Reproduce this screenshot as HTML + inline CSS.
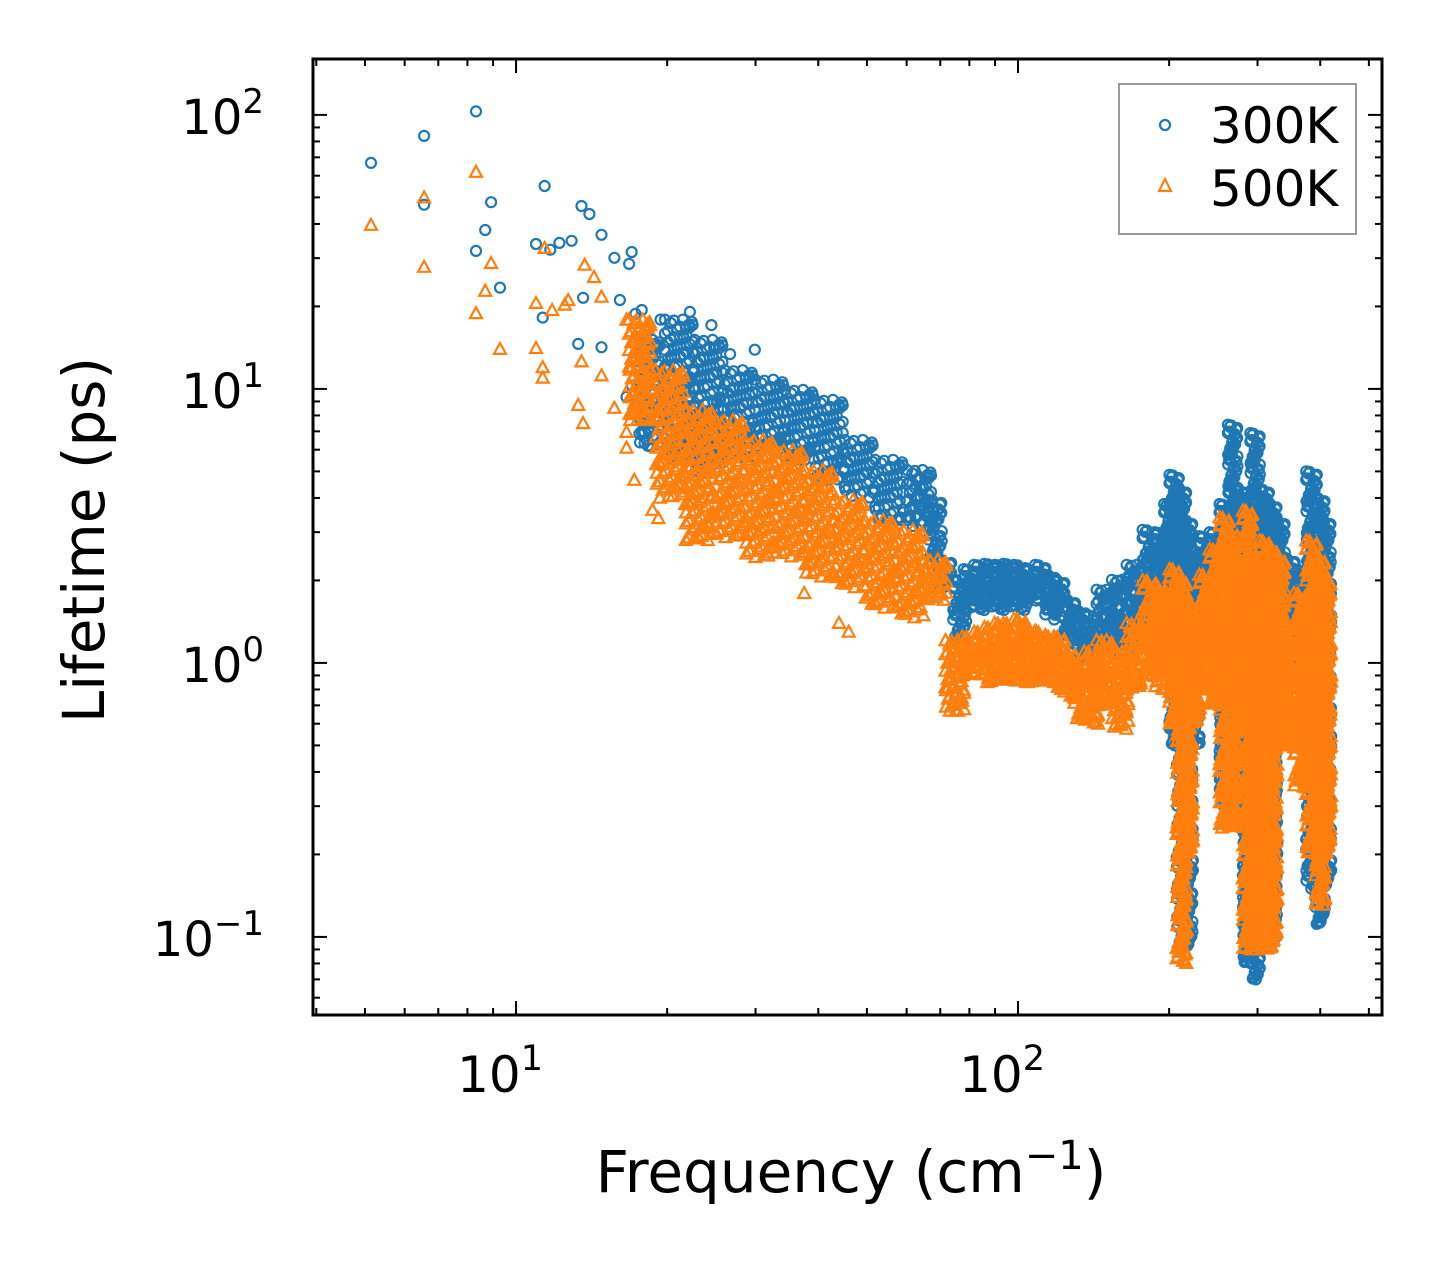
<!DOCTYPE html>
<html><head><meta charset="utf-8"><style>
html,body{margin:0;padding:0;background:#fff;}
svg{display:block;font-family:"DejaVu Sans","Liberation Sans",sans-serif;}
</style></head><body>
<svg id="chart" width="1442" height="1265" viewBox="0 0 1442 1265" xmlns="http://www.w3.org/2000/svg">
<rect x="0" y="0" width="1442" height="1265" fill="#fff"/>
<g id="marks"></g>
<g id="axes"></g>
<g>
<rect x="1119" y="84" width="237" height="150" fill="#fff" fill-opacity="0.8" stroke="#999" stroke-width="2"/>
<circle cx="1165" cy="125" r="5" fill="none" stroke="#1f77b4" stroke-width="2.2"/>
<text x="1210" y="143" font-size="50">300K</text>
<polygon points="1165,179 1171,191 1159,191" fill="none" stroke="#ff7f0e" stroke-width="2.2"/>
<text x="1210" y="206" font-size="50">500K</text>
</g>
<text x="851" y="1192" font-size="58" text-anchor="middle">Frequency (cm<tspan baseline-shift="super" font-size="40">−1</tspan>)</text>
<text transform="translate(104,540) rotate(-90)" font-size="58" text-anchor="middle">Lifetime (ps)</text>
</svg>
<script>
// Sparse points
const freq300 = [5.14,6.56,6.56,8.32,8.32,8.68,8.92,9.29,11.4,10.96,11.3,11.7,12.2,12.9,13.3,13.5,14.0,13.6,14.8,14.8,15.7,16.8,17.0,16.1,17.0,16.6,17.3,17.8,18.2,18.9,19.4,22.2,24.5,24.8,26.7,29.9,18.3];
const life300 = [66.8,83.8,47,103,31.9,38,48,23.4,55,33.8,18.2,32.2,34.1,34.7,14.6,46.5,43.5,21.5,36.5,14.2,30.1,28.6,31.6,21.1,10.3,9.35,18.8,19.4,16.4,14.6,17.9,19.1,17.1,14.1,13.4,13.9,6.2];
const freq500 = [5.14,6.56,6.56,8.32,8.32,8.68,8.92,9.29,10.96,10.96,11.3,11.3,11.4,11.8,12.5,12.7,13.3,13.6,13.5,13.7,14.3,14.8,14.8,15.7,16.6,16.6,16.6,17.2,18.7,19.2,37.5,44,46];
const life500 = [39.7,50,27.9,62,18.9,22.8,28.8,14.0,14.1,20.6,12.0,11.0,32.7,19.4,20.3,21.1,8.74,7.5,12.6,28.4,25.6,11.2,21.7,8.53,17.9,6.1,6.97,4.66,3.62,3.38,1.8,1.4,1.3];
// Dense clouds: frequency with min/max lifetime of the cloud
const band300Freq = [18.5,21.2,24.3,27.9,32.1,36.8,42.2,48.4,55.6,63.8,68.4,71.6,76.6,80,84.0,88,92.1,96,101,106,111,116,121,127,133,140,149,160,171,183,192,200,205,212,218,225,236,247,258,268,277,287,297,310,321,333,348,365,385,400,411];
const band300Lo   = [6.0,5.5,5.0,5.5,6.0,5.5,4.65,3.94,3.32,3.06,2.38,1.85,1.21,1.56,1.56,1.6,1.56,1.6,1.56,1.65,1.70,1.5,1.44,1.2,1.03,1.05,1.12,1.03,1.12,1.21,1.3,1.21,0.5,0.09,0.09,0.5,1.0,1.0,0.3,0.3,0.3,0.08,0.07,0.1,0.1,0.6,0.9,1.0,0.15,0.11,0.15];
const band300Hi   = [15.1,17.9,15.1,11.7,10.8,9.92,9.12,6.51,5.51,5.06,3.94,2.38,2.01,2.2,2.28,2.3,2.28,2.3,2.28,2.2,2.28,2.1,2.01,1.7,1.56,1.5,1.85,2.01,2.28,3.06,3.0,3.8,4.86,4.3,3.3,2.6,2.9,3.0,3.8,7.4,4.3,4.0,6.9,4.3,3.8,3.3,2.4,2.2,5.0,4.0,3.3];
const band500Freq = [17.7,20.3,23.2,26.7,30.6,35.1,40.3,46.3,53.1,60.9,68.4,75.0,80,84.0,88,92.1,96,101,106,111,116,121,127,133,140,149,160,171,183,192,200,205,212,218,225,236,247,258,268,277,287,297,310,321,333,348,365,385,400,411];
const band500Lo   = [7.70,3.94,2.81,2.81,2.38,2.38,2.01,1.85,1.56,1.44,1.70,0.67,0.9,0.9,0.85,0.85,0.85,0.85,0.85,0.85,0.85,0.8,0.75,0.62,0.6,0.7,0.57,0.8,0.9,0.8,0.9,0.6,0.08,0.2,0.6,0.8,0.7,0.25,0.25,0.6,0.09,0.09,0.1,0.09,0.5,0.5,0.35,0.2,0.13,0.2];
const band500Hi   = [17.9,11.7,8.38,7.70,6.51,5.99,5.06,3.94,3.32,3.06,2.38,1.21,1.25,1.3,1.35,1.4,1.4,1.45,1.35,1.3,1.25,1.25,1.1,1.0,1.1,1.21,1.1,1.4,2.0,1.9,1.8,2.2,2.0,1.5,1.6,2.1,2.6,3.4,3.0,2.4,3.6,2.4,2.8,2.6,2.4,1.4,1.8,2.8,2.4,2.0];

const xTickVals = [10,100];
const xTickLabels = ["1","2"];
const yTickVals = [0.1,1,10,100];
const yTickLabels = ["−1","0","1","2"];

const L=313,R=1382,T=59,B=1015;
const xmin=Math.log10(3.94), xmax=Math.log10(531);
const ymin=-1.285, ymax=2.204;
function sx(f){return L+(Math.log10(f)-xmin)/(xmax-xmin)*(R-L);}
function sy(v){return B-(Math.log10(v)-ymin)/(ymax-ymin)*(B-T);}
const NS="http://www.w3.org/2000/svg";
const marks=document.getElementById('marks');
const axes=document.getElementById('axes');
function mk(tag,attrs,parent){const e=document.createElementNS(NS,tag);for(const k in attrs)e.setAttribute(k,attrs[k]);parent.appendChild(e);return e;}
function circ(x,y){
  const c=mk('circle',{cx:x.toFixed(1),cy:y.toFixed(1),r:5,fill:'none',stroke:'#1f77b4','stroke-width':2.2},marks);
  
  
}
function tri(x,y){
  const p=mk('polygon',{points:`${x.toFixed(1)},${(y-6).toFixed(1)} ${(x+6).toFixed(1)},${(y+5).toFixed(1)} ${(x-6).toFixed(1)},${(y+5).toFixed(1)}`,fill:'none',stroke:'#ff7f0e','stroke-width':2.2},marks);
  
  
}
function drawBand(fArr,lo,hi,fn){
  for(let i=0;i<fArr.length;i++){
    const x=sx(fArr[i]), y1=sy(hi[i]), y2=sy(lo[i]);
    const prev=i>0?sx(fArr[i-1]):x-10, next=i<fArr.length-1?sx(fArr[i+1]):x+10;
    const spread=Math.max(5,Math.min(15,(next-prev)/3.5));
    const wide=spread>8;
    const step=wide?5:3;
    const n=wide?4:2;
    let k=0;
    for(let y=y1;y<=y2;y+=step){
      for(let j=0;j<n;j++){
        const dx=(((k*37+j*53)%41)/40-0.5)*2*spread;
        const dy=(((k*17+j*29)%11)/10-0.5)*step;
        fn(x+dx,Math.min(y2,Math.max(y1,y+dy)));
      }
      k++;
    }
  }
}
freq300.forEach((f,i)=>circ(sx(f),sy(life300[i])));
drawBand(band300Freq,band300Lo,band300Hi,circ);
freq500.forEach((f,i)=>tri(sx(f),sy(life500[i])));
drawBand(band500Freq,band500Lo,band500Hi,tri);

const fr=mk('rect',{x:L,y:T,width:R-L,height:B-T,fill:'none',stroke:'#000','stroke-width':3},axes);


for(let d=0;d<=3;d++){
  for(let m=1;m<=9;m++){
    const v=m*Math.pow(10,d); const x=sx(v);
    if(x<L||x>R) continue;
    const len=m===1?14:7;
    const t1=mk('line',{x1:x,y1:B,x2:x,y2:B-len,stroke:'#000','stroke-width':2},axes);
    
    
    const t2=mk('line',{x1:x,y1:T,x2:x,y2:T+len,stroke:'#000','stroke-width':2},axes);
    
    
  }
}
for(let d=-2;d<=2;d++){
  for(let m=1;m<=9;m++){
    const v=m*Math.pow(10,d); const y=sy(v);
    if(y<T||y>B) continue;
    const len=m===1?14:7;
    const t1=mk('line',{x1:L,y1:y,x2:L+len,y2:y,stroke:'#000','stroke-width':2},axes);
    
    
    const t2=mk('line',{x1:R,y1:y,x2:R-len,y2:y,stroke:'#000','stroke-width':2},axes);
    
    
  }
}
xTickVals.forEach((v,i)=>{
  const t=mk('text',{x:sx(v)-16,y:1092,'font-size':50,'text-anchor':'middle'},axes);
  
  
  t.textContent='10';
  const s=mk('tspan',{dy:-22,'font-size':35},t);s.textContent=xTickLabels[i];
});
yTickVals.forEach((v,i)=>{
  const t=mk('text',{x:264,y:sy(v)+19,'font-size':48,'text-anchor':'end'},axes);
  
  
  t.textContent='10';
  const s=mk('tspan',{dy:-21,'font-size':34},t);s.textContent=yTickLabels[i];
});
</script>
</body></html>
